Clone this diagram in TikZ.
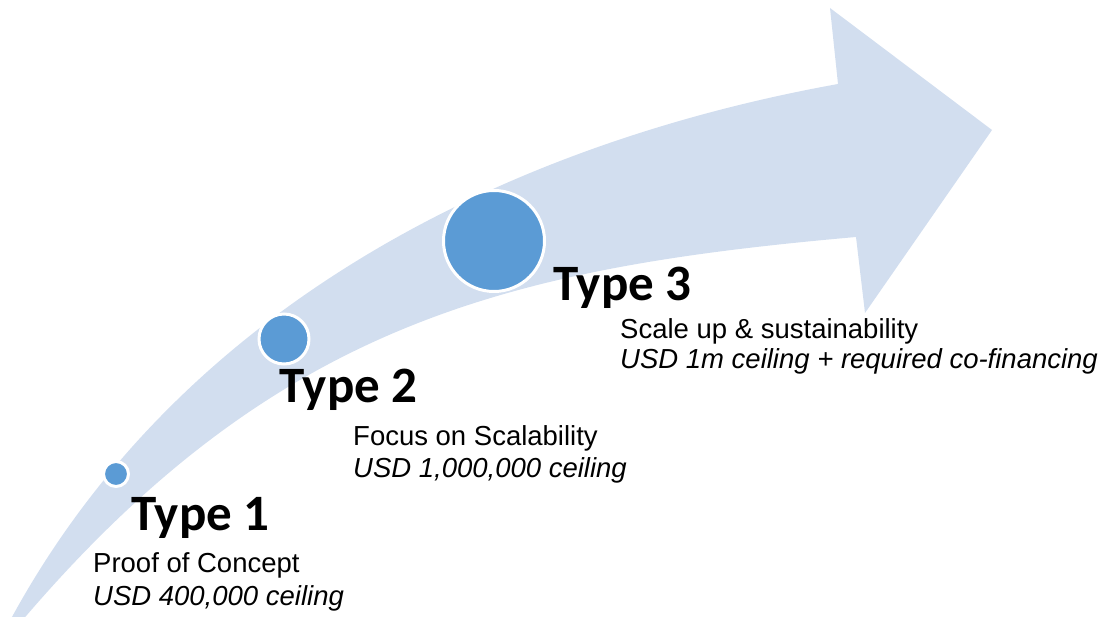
\documentclass[tikz,border=0pt]{standalone}
\usepackage{fontspec}
\setmainfont{Liberation Sans}
\newfontfamily\typefont{Carlito}
\definecolor{bandcol}{RGB}{210,222,239}
\definecolor{dotcol}{RGB}{91,155,213}
\tikzset{
  band/.style={fill=bandcol},
  dot/.style={circle, fill=dotcol, draw=white, line width=3pt, inner sep=0pt},
  typelabel/.style={anchor=base west, inner sep=0pt, font=\typefont\bfseries\fontsize{51}{54}\selectfont},
  desc/.style={anchor=base west, inner sep=0pt, font=\fontsize{27.5}{32}\selectfont},
}
\begin{document}
\begin{tikzpicture}[x=1pt,y=-1pt]
\useasboundingbox (0,0) rectangle (1113,617);
\clip (0,0) rectangle (1113,617);
\fill[band] (5,630) .. controls (185,288) and (538,138) .. (838,84)
  -- (830,8) -- (992,130) -- (865,313) -- (856,237)
  .. controls (506,268) and (270,323) .. (10,635) -- cycle;

\node[dot, minimum size=25pt] (d1) at (116,474) {};
\node[dot, minimum size=50pt] (d2) at (284,339) {};
\node[dot, minimum size=101pt] (d3) at (494,241) {};

\node[typelabel] (t1) at (131,530) {Type 1};
\node[desc] (t1a) at (93,572) {Proof of Concept};
\node[desc] (t1b) at (93,605) {\itshape USD 400,000 ceiling};

\node[typelabel] (t2) at (279,402) {Type 2};
\node[desc] (t2a) at (353,445) {Focus on Scalability};
\node[desc] (t2b) at (353,477) {\itshape USD 1,000,000 ceiling};

\node[typelabel] (t3) at (553,301) {Type 3};
\node[desc] (t3a) at (620,338) {Scale up \& sustainability};
\node[desc] (t3b) at (620,368) {\itshape USD 1m ceiling + required co-financing};
\end{tikzpicture}
\end{document}
